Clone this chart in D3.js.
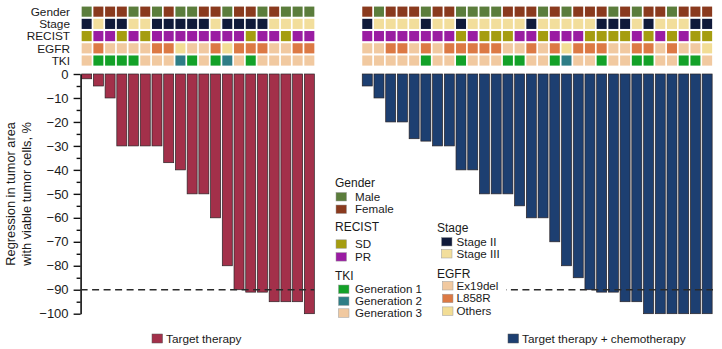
<!DOCTYPE html>
<html><head><meta charset="utf-8">
<script src="https://cdn.jsdelivr.net/npm/d3@7"></script>
<style>
html,body{margin:0;padding:0;background:#fff;}
svg{display:block;font-family:"Liberation Sans",Arial,Helvetica,sans-serif;}
</style></head>
<body>
<svg id="chart" width="722" height="349"></svg>
<script>
// ---------------- DATA ----------------
const leftValues  = [-2,-5,-10,-30,-30,-30,-30,-37,-40,-50,-50,-60,-80,-90,-91,-91,-95,-95,-95,-100];
const rightValues = [-5,-10,-20,-20,-27,-28,-30,-30,-40,-40,-50,-50,-50,-55,-60,-60,-70,-80,-85,-90,-91,-91,-95,-95,-100,-100,-100,-100,-100,-100];

const leftGender  = ["M","F","F","F","M","F","M","F","M","M","F","F","M","F","F","M","F","M","M","M"];
const leftStage   = ["II","III","II","II","III","III","II","II","II","II","II","III","II","II","II","II","III","III","III","III"];
const leftRecist  = ["SD","PR","PR","SD","PR","SD","PR","PR","PR","PR","PR","PR","PR","PR","SD","PR","PR","SD","PR","PR"];
const leftEgfr    = ["Ex","L","Ex","Ex","Ex","Ex","L","L","O","Ex","Ex","L","O","L","L","L","Ex","Ex","L","L"];
const leftTki     = ["G3","G1","G1","G1","G1","G3","G3","G3","G2","G1","G3","G1","G2","G3","G1","G3","G3","G3","G3","G3"];

const rightGender = ["F","M","F","F","F","M","F","F","M","M","M","M","F","F","F","M","F","M","F","F","F","M","F","M","F","F","M","F","F","F"];
const rightStage  = ["II","III","III","III","III","II","III","III","II","III","III","III","III","III","II","III","III","III","III","III","II","II","II","III","II","III","III","III","II","II"];
const rightRecist = ["PR","PR","PR","PR","PR","PR","PR","PR","SD","PR","SD","SD","SD","PR","PR","SD","PR","PR","PR","SD","SD","SD","SD","PR","SD","PR","SD","PR","SD","SD"];
const rightEgfr   = ["Ex","Ex","L","L","Ex","L","Ex","L","L","L","L","L","Ex","Ex","L","Ex","L","O","L","L","L","Ex","Ex","L","L","Ex","L","Ex","Ex","O"];
const rightTki    = ["G3","G3","G3","G3","G3","G1","G3","G3","G1","G3","G3","G3","G1","G1","G3","G3","G1","G2","G3","G3","G1","G3","G3","G1","G1","G3","G3","G1","G1","G3"];

const rowNames  = ["Gender","Stage","RECIST","EGFR","TKI"];
const yTicks    = [0,-10,-20,-30,-40,-50,-60,-70,-80,-90,-100];
const threshold = -90;
const groupNames = ["Target therapy","Target therapy + chemotherapy"];

// ---------------- COLOURS ----------------
const cellColor = {
  M:"#5b7d3c", F:"#8a3a1e",
  II:"#101a3a", III:"#f2de9c",
  SD:"#a59d10", PR:"#9a1ca2",
  Ex:"#f1c9a0", L:"#dc7944", O:"#f2dd95",
  G1:"#13a128", G2:"#2e7d86", G3:"#f1c9a0"
};
const barColors = ["#a3304a","#1d3f71"];

const svg = d3.select("#chart");
const FONT = "#1a1a1a";

// ---------------- SCALES ----------------
const y = d3.scaleLinear().domain([-100,0]).range([313.7,74]);
const xL = d3.scaleBand().domain(d3.range(leftValues.length)).range([80.8,315.2]).paddingInner(0.147).paddingOuter(0.0735);
const xR = d3.scaleBand().domain(d3.range(rightValues.length)).range([361.4,713]).paddingInner(0.147).paddingOuter(0.0735);
const rowY = d3.scaleBand().domain(rowNames).range([5.6,66.6]).paddingInner(0.17).paddingOuter(0.08);

// ---------------- HEATMAPS ----------------
function heat(x, rows){
  rowNames.forEach((rn,ri)=>{
    svg.append("g").selectAll("rect").data(rows[ri]).join("rect")
      .attr("x",(d,i)=>x(i)).attr("y",rowY(rn))
      .attr("width",x.bandwidth()).attr("height",rowY.bandwidth())
      .attr("fill",d=>cellColor[d]);
  });
}
heat(xL,[leftGender,leftStage,leftRecist,leftEgfr,leftTki]);
heat(xR,[rightGender,rightStage,rightRecist,rightEgfr,rightTki]);

svg.append("g").selectAll("text").data(rowNames).join("text")
  .attr("x",70).attr("y",d=>rowY(d)+rowY.bandwidth()/2)
  .attr("dy","0.36em").attr("text-anchor","end")
  .attr("font-size",11.8).attr("fill",FONT).text(d=>d);

// ---------------- BARS ----------------
function bars(x, vals, color){
  svg.append("g").selectAll("rect").data(vals).join("rect")
    .attr("x",(d,i)=>x(i)).attr("y",y(0))
    .attr("width",x.bandwidth()).attr("height",d=>y(d)-y(0))
    .attr("fill",color).attr("stroke","#2a2326").attr("stroke-width",0.7);
}
bars(xL,leftValues,barColors[0]);
bars(xR,rightValues,barColors[1]);

// ---------------- AXIS ----------------
const axisX = 80.6;
const minor = d3.range(-95,0,10);
svg.append("g").attr("transform",`translate(${axisX},0)`)
  .call(d3.axisLeft(y).tickValues(minor).tickSize(4).tickFormat(""))
  .call(g=>g.select(".domain").remove())
  .call(g=>g.selectAll("line").attr("stroke","#111").attr("stroke-width",1.4));
const ax = svg.append("g").attr("transform",`translate(${axisX},0)`)
  .call(d3.axisLeft(y).tickValues(yTicks).tickSize(7).tickSizeOuter(0).tickPadding(5));
ax.select(".domain").attr("stroke","#111").attr("stroke-width",1.6);
ax.selectAll(".tick line").attr("stroke","#111").attr("stroke-width",1.4);
ax.selectAll(".tick text").attr("font-size",13).attr("fill",FONT)
  .attr("font-family","'Liberation Sans',Arial,sans-serif");

svg.append("text").attr("transform",`translate(14.8,${y(-50)}) rotate(-90)`)
  .attr("text-anchor","middle").attr("font-size",12.8).attr("fill",FONT)
  .text("Regression in tumor area");
svg.append("text").attr("transform",`translate(31.2,${y(-50)}) rotate(-90)`)
  .attr("text-anchor","middle").attr("font-size",12.8).attr("fill",FONT)
  .text("with viable tumor cells, %");

// ---------------- THRESHOLD LINES ----------------
svg.append("line").attr("x1",axisX).attr("x2",xL.range()[1]-1)
  .attr("y1",y(threshold)).attr("y2",y(threshold))
  .attr("stroke","#2a2a2a").attr("stroke-width",1.3).attr("stroke-dasharray","7,4.5");
svg.append("line").attr("x1",xR.range()[0]).attr("x2",xR.range()[1])
  .attr("y1",y(threshold)).attr("y2",y(threshold))
  .attr("stroke","#2a2a2a").attr("stroke-width",1.3).attr("stroke-dasharray","7,4.5");

// ---------------- LEGEND (middle) ----------------
svg.append("rect").attr("x",330).attr("y",218).attr("width",176).attr("height",104).attr("fill","#fff");

const LFS = 11.6;
function legendBlock(x, yTitle, title, items, swX, txtX, rowStart, step){
  svg.append("text").attr("x",x).attr("y",yTitle).attr("dy","0.36em")
    .attr("font-size",LFS+0.4).attr("fill",FONT).text(title);
  items.forEach((it,i)=>{
    const cy = rowStart + i*step;
    svg.append("rect").attr("x",swX).attr("y",cy-4).attr("width",10.5).attr("height",8.5)
      .attr("fill",cellColor[it[0]]).attr("stroke","#9a9a9a").attr("stroke-width",0.5);
    svg.append("text").attr("x",txtX).attr("y",cy).attr("dy","0.36em")
      .attr("font-size",LFS).attr("fill",FONT).text(it[1]);
  });
}
legendBlock(335,183,"Gender",[["M","Male"],["F","Female"]],336,355,196.5,12.5);
legendBlock(335,227,"RECIST",[["SD","SD"],["PR","PR"]],336,355,243.8,12.8);
legendBlock(335,276,"TKI",[["G1","Generation 1"],["G2","Generation 2"],["G3","Generation 3"]],338.5,355,289,11.9);
legendBlock(437,227.5,"Stage",[["II","Stage II"],["III","Stage III"]],441.5,456.5,241.5,12);
legendBlock(437,273.5,"EGFR",[["Ex","Ex19del"],["L","L858R"],["O","Others"]],442.5,456.5,285.5,12.7);

// ---------------- LEGEND (bottom) ----------------
[[xL,0,152],[xR,1,508]].forEach(([x,gi,sx])=>{
  svg.append("rect").attr("x",sx).attr("y",334).attr("width",10.5).attr("height",9)
    .attr("fill",barColors[gi]).attr("stroke","#555").attr("stroke-width",0.5);
  svg.append("text").attr("x",sx+14).attr("y",338.5).attr("dy","0.36em")
    .attr("font-size",11.8).attr("fill",FONT).text(groupNames[gi]);
});
</script>
</body></html>
